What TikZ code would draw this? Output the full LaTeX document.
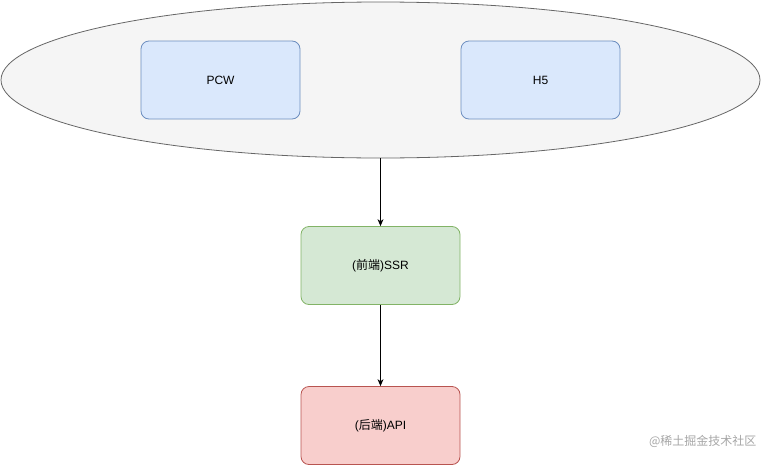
\documentclass[tikz,border=0pt]{standalone}
\usepackage{fontspec}
\setmainfont{Liberation Sans}
\newfontfamily\cjk{Noto Sans CJK SC}
\usetikzlibrary{shapes.geometric,arrows.meta}
\definecolor{bfill}{HTML}{DAE8FC}\definecolor{bline}{HTML}{6C8EBF}
\definecolor{gfill}{HTML}{D5E8D4}\definecolor{gline}{HTML}{82B366}
\definecolor{rfill}{HTML}{F8CECC}\definecolor{rline}{HTML}{B85450}
\definecolor{efill}{HTML}{F5F5F5}\definecolor{eline}{HTML}{666666}
\begin{document}
\begin{tikzpicture}[x=1pt,y=-1pt,
  box/.style={rounded corners=8pt,minimum width=159pt,minimum height=78pt,font=\fontsize{12}{14}\selectfont,line width=0.8pt},
  arr/.style={-{Stealth[length=7pt,width=6pt]},line width=0.8pt}]
\useasboundingbox (0,0) rectangle (762,466);
\node[ellipse,draw=eline,fill=efill,line width=0.8pt,minimum width=759pt,minimum height=156pt] (ell) at (380.5,80) {};
\node[box,draw=bline,fill=bfill] (pcw) at (220.5,80) {PCW};
\node[box,draw=bline,fill=bfill] (h5) at (540.5,80) {H5};
\node[box,draw=gline,fill=gfill] (ssr) at (380.5,265.5) {({\cjk 前端})SSR};
\node[box,draw=rline,fill=rfill] (api) at (380.5,425.5) {({\cjk 后端})API};
\draw[arr] (ell.south) -- (ssr.north);
\draw[arr] (ssr.south) -- (api.north);
\node[anchor=east,text=gray!70,font=\cjk\fontsize{12}{14}\selectfont] (wm) at (760,441) {@稀土掘金技术社区};
\end{tikzpicture}
\end{document}
